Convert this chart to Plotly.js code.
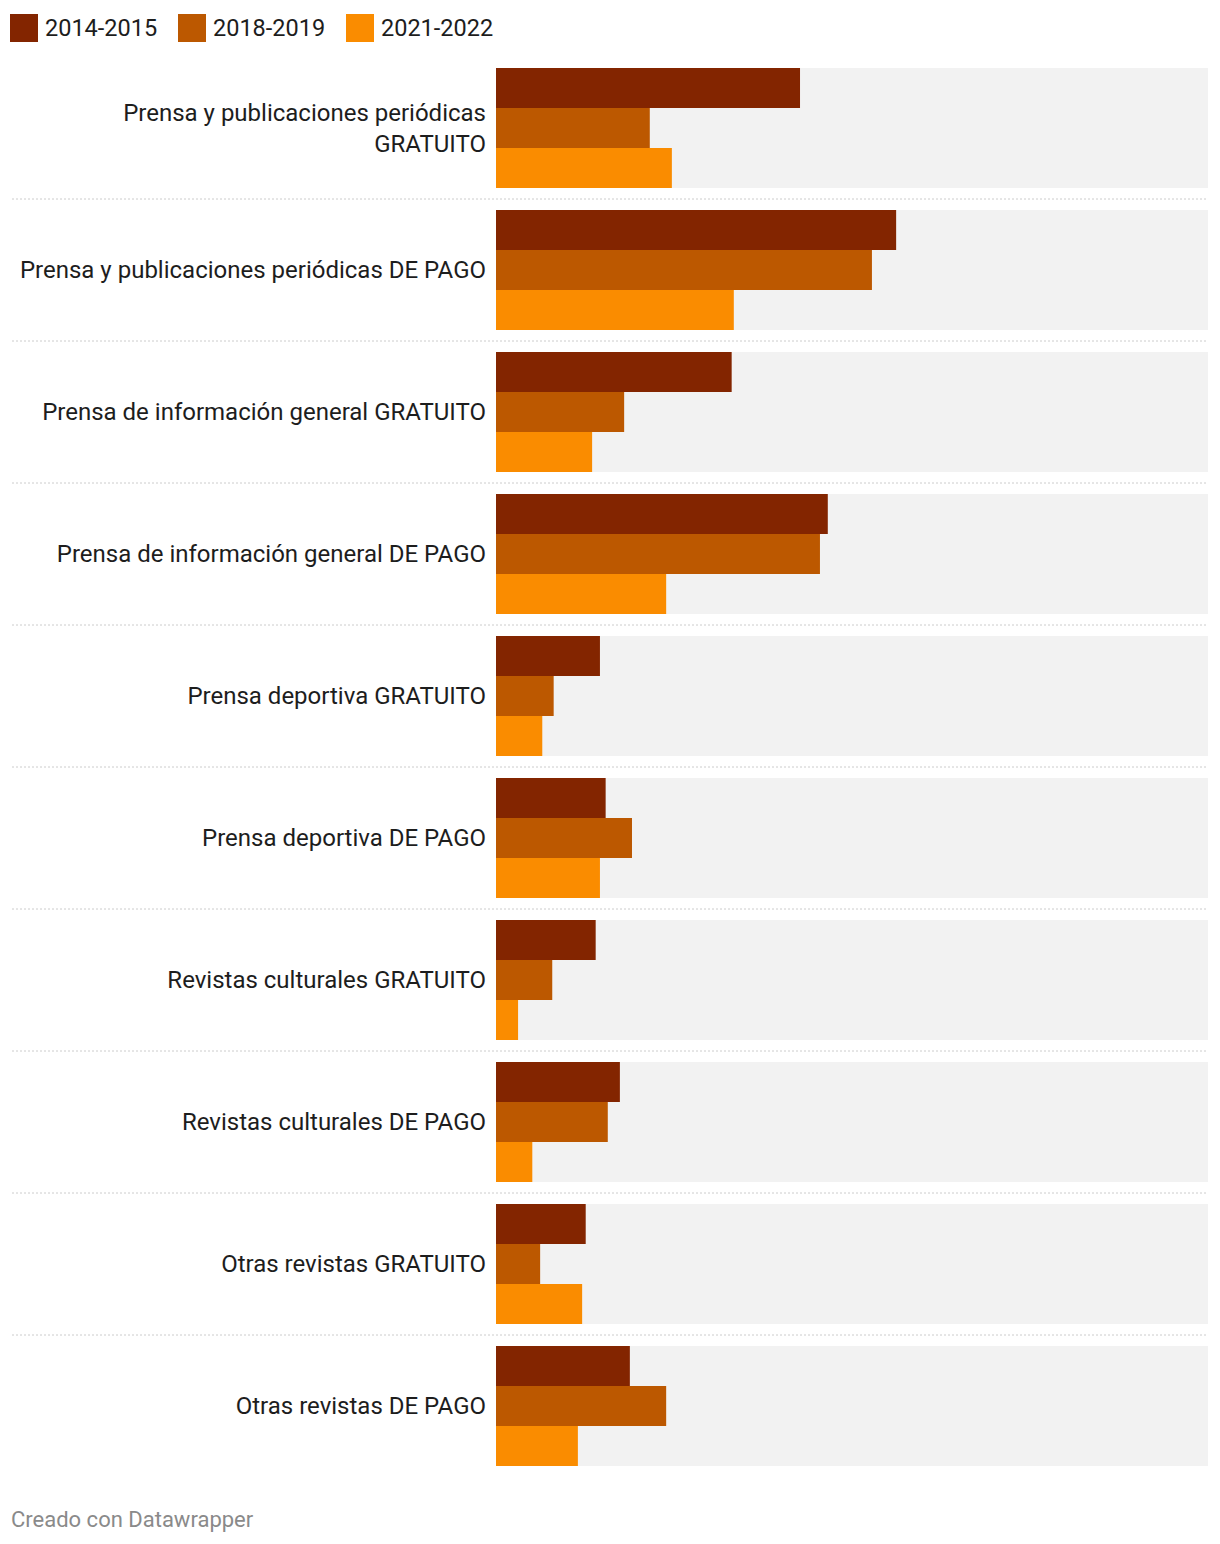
<!DOCTYPE html>
<html><head><meta charset="utf-8">
<script src="https://cdn.plot.ly/plotly-3.0.1.min.js"></script>
<style>html,body{margin:0;padding:0;background:#fff}</style>
</head><body>
<div id="chart" style="width:1220px;height:1544px"></div>
<script>
const categories = [
  "Prensa y publicaciones periódicas<br>GRATUITO",
  "Prensa y publicaciones periódicas DE PAGO",
  "Prensa de información general GRATUITO",
  "Prensa de información general DE PAGO",
  "Prensa deportiva GRATUITO",
  "Prensa deportiva DE PAGO",
  "Revistas culturales GRATUITO",
  "Revistas culturales DE PAGO",
  "Otras revistas GRATUITO",
  "Otras revistas DE PAGO"
];
const seriesNames = ["2014-2015", "2018-2019", "2021-2022"];
const values2014 = [42.7, 56.2, 33.1, 46.6, 14.6, 15.4, 14.0, 17.4, 12.6, 18.8];
const values2018 = [21.6, 52.8, 18.0, 45.5, 8.1, 19.1, 7.9, 15.7, 6.2, 23.9];
const values2021 = [24.7, 33.4, 13.5, 23.9, 6.5, 14.6, 3.1, 5.1, 12.1, 11.5];
const scaleMax = 100;
const colors = ["#832500", "#bc5800", "#fa8c00"];
const footerText = "Creado con Datawrapper";

// layout geometry (pixels)
const W = 1220, H = 1544;
const M = {l: 496, r: 12, t: 57, b: 67};
const PW = W - M.l - M.r, PH = H - M.t - M.b;
const px2x = p => (p - M.l) / PW;
const px2y = p => (H - M.b - p) / PH;

const pitch = 142;
const barW = 40 / pitch, bgW = 120 / pitch;
const offsets = [-60 / pitch, -20 / pitch, 20 / pitch];

const seriesValues = [values2014, values2018, values2021];
const traces = [{
  type: 'bar', orientation: 'h',
  y: categories, x: categories.map(() => scaleMax),
  width: bgW, offset: -60 / pitch,
  marker: {color: '#f2f2f2', line: {width: 0}},
  hoverinfo: 'skip', showlegend: false
}];
seriesValues.forEach((vals, i) => {
  traces.push({
    type: 'bar', orientation: 'h', name: seriesNames[i],
    y: categories, x: vals,
    width: barW, offset: offsets[i],
    marker: {color: colors[i], line: {width: 0}},
    showlegend: false
  });
});

const shapes = [];
for (let i = 0; i < categories.length - 1; i++) {
  shapes.push({
    type: 'line', xref: 'paper', yref: 'y',
    x0: px2x(12), x1: 1, y0: i + 0.5, y1: i + 0.5,
    line: {color: '#cccccc', width: 1, dash: '2px,2px'}
  });
}
const annotations = [];
const legSq = [10, 178, 346];
seriesNames.forEach((n, i) => {
  shapes.push({
    type: 'rect', xref: 'paper', yref: 'paper',
    x0: px2x(legSq[i]), x1: px2x(legSq[i] + 28),
    y0: px2y(42), y1: px2y(14),
    fillcolor: colors[i], line: {width: 0}
  });
  annotations.push({
    xref: 'paper', yref: 'paper', x: px2x(legSq[i] + 34), y: px2y(28),
    xanchor: 'left', yanchor: 'middle', showarrow: false, borderpad: 0,
    text: n, font: {family: 'Roboto', size: 23.5, color: '#1d1d1d'}
  });
});
annotations.push({
  xref: 'paper', yref: 'paper', x: px2x(10), y: px2y(1519),
  xanchor: 'left', yanchor: 'middle', showarrow: false, borderpad: 0,
  text: footerText, font: {family: 'Roboto', size: 22, color: '#8a8a8a'}
});

const layout = {
  width: W, height: H,
  margin: M,
  paper_bgcolor: '#ffffff', plot_bgcolor: '#ffffff',
  barmode: 'overlay',
  showlegend: false,
  font: {family: 'Roboto', color: '#1d1d1d'},
  xaxis: {range: [0, scaleMax], visible: false, fixedrange: true},
  yaxis: {
    type: 'category', range: [categories.length - 0.5, -0.5],
    showgrid: false, zeroline: false, showline: false, ticks: '',
    ticklabelstandoff: 9,
    tickfont: {family: 'Roboto', size: 24, color: '#1d1d1d'},
    fixedrange: true
  },
  shapes: shapes,
  annotations: annotations
};
Plotly.newPlot('chart', traces, layout, {displayModeBar: false, staticPlot: true});
</script>
</body></html>
